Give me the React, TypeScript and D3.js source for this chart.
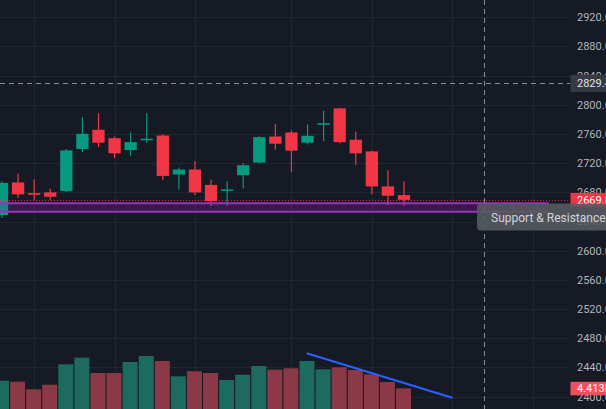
import React from 'react';
import * as d3 from 'd3';

const opens = [2649, 2693.6, 2679.0, 2680.0, 2681.8, 2739.4, 2765.8, 2754.3, 2738.0, 2751.6, 2758.0, 2704.5, 2711.3, 2690.3, 2682.7, 2703.6, 2720.8, 2756.6, 2762.1, 2748.1, 2772.6, 2795.2, 2752.2, 2736.2, 2688.2, 2676.3];
const highs = [2695, 2705.9, 2698.1, 2684.9, 2739.5, 2782.9, 2788.4, 2756.6, 2762.1, 2788.4, 2759.8, 2714.0, 2723.0, 2697.7, 2695.4, 2719.9, 2757.0, 2773.9, 2764.8, 2773.0, 2792.0, 2796.0, 2763.5, 2737.0, 2710.4, 2695.4];
const lows = [2645, 2672.2, 2669.5, 2669.5, 2680.5, 2734.9, 2742.1, 2727.1, 2730.4, 2748.1, 2696.7, 2684.1, 2676.3, 2661.4, 2661.4, 2685.4, 2719.5, 2738.9, 2708.0, 2745.8, 2750.2, 2747.5, 2717.6, 2677.3, 2662.7, 2661.4];
const closes = [2693, 2677.3, 2676.7, 2674.0, 2737.6, 2760.3, 2748.1, 2733.5, 2748.9, 2753.5, 2702.6, 2711.3, 2680.0, 2668.2, 2684.1, 2717.2, 2755.7, 2746.7, 2737.2, 2757.6, 2774.8, 2748.9, 2733.5, 2688.2, 2675.4, 2669.8];
const volumes = [6.03, 5.82, 4.2, 5.18, 9.53, 10.94, 7.68, 7.68, 10.02, 11.3, 10.23, 6.97, 8.04, 7.68, 6.18, 7.31, 9.17, 8.38, 8.68, 10.23, 8.46, 8.89, 8.31, 7.4, 5.76, 4.413];

const priceTicks = [2400, 2440, 2480, 2520, 2560, 2600, 2640, 2680, 2720, 2760, 2800, 2840, 2880, 2920];
const timeGridIdx = [2, 7, 12, 18, 23, 28, 33];

const lastPrice = 2669.8;
const crossPrice = 2829.4;
const crossIdx = 30;
const lastVolumeLabel = '4.413B';
const supportTop = 2665.0;
const supportBottom = 2653.5;
const supportEndIdx = 34;
const supportLabel = 'Support & Resistance';
const trendStart = { idx: 18.95, vol: 11.88 };
const trendEnd = { idx: 28.0, vol: 2.41 };

const W = 606;
const H = 409;
const PLOT_R = 570;

const BG = '#161a25';
const GRID = '#222631';
const UP = '#089981';
const DOWN = '#f23645';
const UP_VOL = '#1d6b5e';
const DOWN_VOL = '#8b3946';

export default function App() {
  const x = d3.scaleLinear().domain([0, 35]).range([2, 2 + 35 * 16.08]);
  const y = d3.scaleLinear().domain([2480, 2920]).range([338.3, 17.3]);
  const yVol = d3.scaleLinear().domain([0, 12]).range([H, H - 12 / 0.2132]);
  const bodyW = 12.3;
  const volW = 15;
  const font = 'Roboto, "Noto Sans", sans-serif';

  const line = d3.line<{ idx: number; vol: number }>()
    .x((d) => x(d.idx))
    .y((d) => yVol(d.vol));

  return (
    <svg width={W} height={H} style={{ position: 'absolute', left: 0, top: 0 }} fontFamily={font}>
      <defs>
        <clipPath id="plot">
          <rect x={0} y={0} width={PLOT_R} height={H} />
        </clipPath>
      </defs>
      <rect x={0} y={0} width={W} height={H} fill={BG} />
      <g clipPath="url(#plot)">
        {priceTicks.map((p) => (
          <line key={'h' + p} x1={0} x2={PLOT_R} y1={Math.round(y(p)) + 0.5} y2={Math.round(y(p)) + 0.5} stroke={GRID} strokeWidth={1} />
        ))}
        {timeGridIdx.map((i) => (
          <line key={'v' + i} x1={Math.round(x(i)) + 0.5} x2={Math.round(x(i)) + 0.5} y1={0} y2={H} stroke={GRID} strokeWidth={1} />
        ))}
        {volumes.map((v, i) => (
          <rect key={'vol' + i} x={x(i) - volW / 2 - 0.5} y={yVol(v)} width={volW} height={H - yVol(v)}
            fill={closes[i] >= opens[i] ? UP_VOL : DOWN_VOL} />
        ))}
        <path d={line([trendStart, trendEnd]) || ''} stroke="#2962ff" strokeWidth={2} fill="none" />
        {opens.map((o, i) => {
          const c = closes[i];
          const col = c >= o ? UP : DOWN;
          const top = y(Math.max(o, c));
          const bot = y(Math.min(o, c));
          const cx = x(i);
          return (
            <g key={'c' + i}>
              <line x1={cx} x2={cx} y1={y(highs[i])} y2={y(lows[i])} stroke={col} strokeWidth={1.2} />
              <rect x={cx - bodyW / 2} y={top} width={bodyW} height={Math.max(1.5, bot - top)} fill={col} />
            </g>
          );
        })}
        <rect x={0} y={y(supportTop)} width={x(supportEndIdx)} height={y(supportBottom) - y(supportTop)} fill="rgba(156,39,176,0.22)" />
        <line x1={0} x2={x(supportEndIdx)} y1={y(supportTop)} y2={y(supportTop)} stroke="#a32cc4" strokeWidth={2} />
        <line x1={0} x2={x(supportEndIdx)} y1={y(supportBottom)} y2={y(supportBottom)} stroke="#a32cc4" strokeWidth={2} />
        <line x1={0} x2={PLOT_R} y1={Math.round(y(lastPrice)) + 0.5} y2={Math.round(y(lastPrice)) + 0.5} stroke={DOWN} strokeWidth={1} strokeDasharray="1,2" opacity={0.8} />
        <line x1={0} x2={PLOT_R} y1={Math.round(y(crossPrice)) + 0.5} y2={Math.round(y(crossPrice)) + 0.5} stroke="#8a8d96" strokeWidth={1} strokeDasharray="5,4" />
      </g>
      <line x1={Math.round(x(crossIdx)) + 0.5} x2={Math.round(x(crossIdx)) + 0.5} y1={0} y2={H} stroke="#8a8d96" strokeWidth={1} strokeDasharray="5,4" />
      {priceTicks.map((p) => (
        <text key={'t' + p} x={577} y={y(p)} dy="0.35em" fontSize={11} fill="#b2b5be">{p.toFixed(1)}</text>
      ))}
      <rect x={570.5} y={y(crossPrice) - 8.5} width={40} height={17} fill="#363a45" />
      <text x={577} y={y(crossPrice)} dy="0.35em" fontSize={11} fill="#e0e3eb">{crossPrice.toFixed(1)}</text>
      <rect x={570.5} y={y(lastPrice) - 7} width={40} height={14} fill={DOWN} />
      <text x={577} y={y(lastPrice)} dy="0.35em" fontSize={11} fill="#ffffff">{lastPrice.toFixed(1)}</text>
      <rect x={570.5} y={yVol(volumes[volumes.length - 1]) - 6.5} width={40} height={13.5} fill="#f0505e" />
      <text x={577} y={yVol(volumes[volumes.length - 1])} dy="0.35em" fontSize={11} fill="#ffffff">{lastVolumeLabel}</text>
      <rect x={477} y={203.5} width={140} height={27} rx={4} fill="rgba(88,91,98,0.88)" />
      <text x={491} y={217.5} dy="0.35em" fontSize={12} fill="#d1d4dc">{supportLabel}</text>
    </svg>
  );
}
